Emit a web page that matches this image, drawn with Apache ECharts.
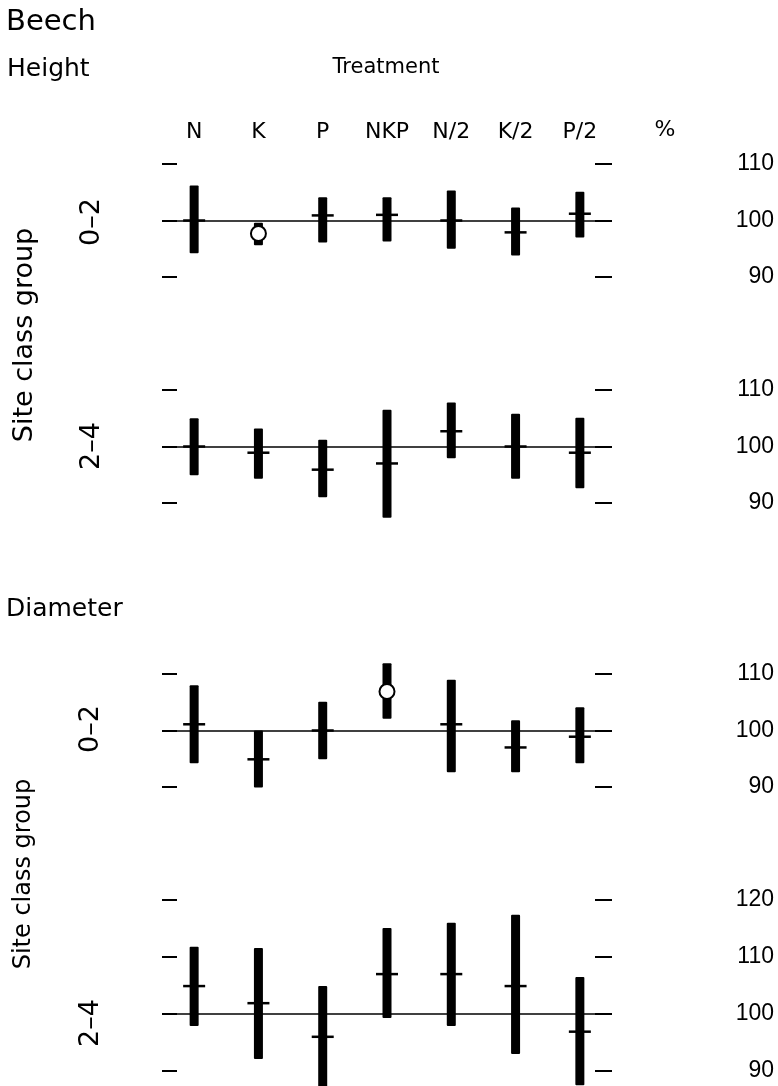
<!DOCTYPE html>
<html>
<head>
<meta charset="utf-8">
<script src="https://cdn.jsdelivr.net/npm/echarts@6/dist/echarts.min.js"></script>
<style>
html,body{margin:0;padding:0;background:#fff;}
#chart{width:778px;height:1086px;}
</style>
</head>
<body>
<div id="chart"></div>
<script>
// ---- data ----
const categories = ['N', 'K', 'P', 'NKP', 'N/2', 'K/2', 'P/2'];

// Height, site class group 0-2
const height02High = [106.2, 99.6, 104.1, 104.1, 105.3, 102.3, 105.1];
const height02Low  = [94.2, 95.6, 96.1, 96.3, 95.0, 93.8, 97.0];
const height02Mean = [100.0, 97.7, 100.9, 101.0, 100.0, 97.9, 101.2];
const height02Sig  = [0, 1, 0, 0, 0, 0, 0];

// Height, site class group 2-4
const height24High = [105.0, 103.2, 101.2, 106.5, 107.8, 105.8, 105.1];
const height24Low  = [94.9, 94.3, 91.0, 87.4, 97.9, 94.3, 92.6];
const height24Mean = [100.0, 98.9, 95.9, 97.0, 102.7, 100.0, 98.9];
const height24Sig  = [0, 0, 0, 0, 0, 0, 0];

// Diameter, site class group 0-2
const diam02High = [108.0, 100.0, 105.1, 111.9, 109.0, 101.8, 104.1];
const diam02Low  = [94.2, 89.9, 94.9, 102.1, 92.6, 92.6, 94.2];
const diam02Mean = [101.1, 94.9, 100.0, 106.9, 101.1, 97.0, 98.9];
const diam02Sig  = [0, 0, 0, 1, 0, 0, 0];

// Diameter, site class group 2-4
const diam24High = [111.8, 111.6, 104.9, 115.1, 116.0, 117.4, 106.5];
const diam24Low  = [97.9, 92.1, 86.0, 99.3, 97.9, 93.0, 87.5];
const diam24Mean = [104.9, 101.9, 96.0, 107.0, 107.0, 104.9, 96.9];
const diam24Sig  = [0, 0, 0, 0, 0, 0, 0];

const yRanges = [[90, 110], [90, 110], [90, 110], [90, 120]];
const referenceValue = 100;

// ---- chart ----
const panels = [
  [height02High, height02Low, height02Mean, height02Sig],
  [height24High, height24Low, height24Mean, height24Sig],
  [diam02High, diam02Low, diam02Mean, diam02Sig],
  [diam24High, diam24Low, diam24Mean, diam24Sig]
];
const gridTops = [164, 390, 674, 900];
const gridHeights = [113, 113, 113, 171];
const FONT = '"DejaVu Sans", sans-serif';

function renderItem(params, api) {
  const idx = api.value(0);
  const hi = api.coord([idx, api.value(1)]);
  const lo = api.coord([idx, api.value(2)]);
  const mn = api.coord([idx, api.value(3)]);
  const sig = api.value(4);
  const x = hi[0];
  const children = [{
    type: 'rect',
    shape: { x: x - 4.5, y: hi[1], width: 9, height: lo[1] - hi[1], r: 1 },
    style: { fill: '#000' }
  }];
  if (sig) {
    children.push({
      type: 'circle',
      shape: { cx: x, cy: mn[1], r: 7.5 },
      style: { fill: '#fff', stroke: '#000', lineWidth: 2 }
    });
  } else {
    children.push({
      type: 'line',
      shape: { x1: x - 11, y1: mn[1], x2: x + 11, y2: mn[1] },
      style: { stroke: '#000', lineWidth: 2.5 }
    });
  }
  return { type: 'group', children };
}

const grid = [], xAxis = [], yAxis = [], series = [];
panels.forEach((p, g) => {
  grid.push({ left: 162, width: 450, top: gridTops[g], height: gridHeights[g] });
  xAxis.push({
    type: 'category', gridIndex: g, data: categories,
    position: 'top',
    axisLine: { show: false }, axisTick: { show: false }, splitLine: { show: false },
    axisLabel: g === 0 ? { show: true, margin: 21, fontSize: 22, fontFamily: FONT, color: '#000' } : { show: false }
  });
  const [mn, mx] = yRanges[g];
  yAxis.push({
    type: 'value', gridIndex: g, min: mn, max: mx, interval: 10, position: 'left',
    axisLine: { show: false }, splitLine: { show: false },
    axisTick: { show: true, inside: true, length: 15, lineStyle: { color: '#000', width: 2 } },
    axisLabel: { show: false }
  });
  yAxis.push({
    type: 'value', gridIndex: g, min: mn, max: mx, interval: 10, position: 'right',
    axisLine: { show: false }, splitLine: { show: false },
    axisTick: { show: true, inside: true, length: 17, lineStyle: { color: '#000', width: 2 } },
    axisLabel: { show: true, align: 'right', margin: 162, fontSize: 23, fontFamily: '"Liberation Sans", sans-serif', color: '#000' }
  });
  const [hi, lo, mean, sig] = p;
  series.push({
    type: 'custom', xAxisIndex: g, yAxisIndex: g * 2, clip: false,
    renderItem,
    data: categories.map((c, i) => [i, hi[i], lo[i], mean[i], sig[i]]),
    z: 3,
    markLine: {
      silent: true, symbol: 'none', z: 2,
      label: { show: false },
      lineStyle: { color: '#000', width: 1.5, type: 'solid' },
      data: [{ yAxis: referenceValue }]
    }
  });
});

function txt(text, x, y, size, opts) {
  opts = opts || {};
  return {
    type: 'text', x: x, y: y, rotation: opts.rotation || 0,
    style: {
      text: text, x: 0, y: 0,
      font: size + 'px ' + (opts.family || FONT),
      fill: '#000',
      textAlign: opts.align || 'left',
      textVerticalAlign: 'middle'
    }
  };
}
const R = Math.PI / 2;
const graphic = [
  txt('Beech', 6, 22, 29),
  txt('Height', 7, 69, 25),
  txt('Treatment', 386, 68, 21, { align: 'center' }),
  txt('%', 665, 130, 22, { align: 'center' }),
  txt('Diameter', 6, 609, 25),
  txt('Site class group', 25, 335, 27, { align: 'center', rotation: R }),
  txt('Site class group', 24, 874, 24, { align: 'center', rotation: R }),
  txt('0–2', 92, 222, 27, { align: 'center', rotation: R }),
  txt('2–4', 92, 446, 27, { align: 'center', rotation: R }),
  txt('0–2', 91, 729, 27, { align: 'center', rotation: R }),
  txt('2–4', 91, 1023, 27, { align: 'center', rotation: R })
];

const chart = echarts.init(document.getElementById('chart'), null, { renderer: 'canvas' });
chart.setOption({
  backgroundColor: '#fff',
  animation: false,
  grid, xAxis, yAxis, series, graphic
});
</script>
</body>
</html>
